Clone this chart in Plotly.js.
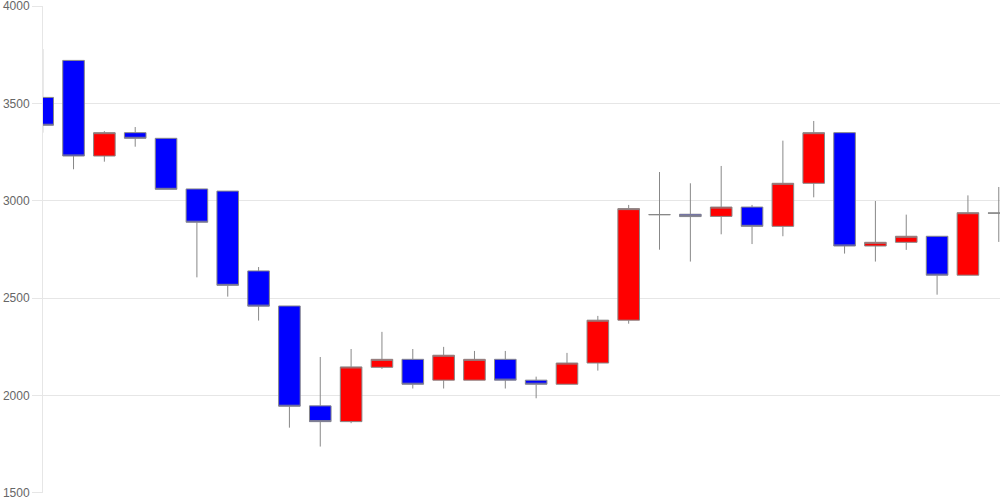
<!DOCTYPE html>
<html>
<head>
<meta charset="utf-8">
<script src="https://cdn.plot.ly/plotly-3.0.1.min.js"></script>
<style>html,body{margin:0;padding:0;background:#fff}#chart{width:1000px;height:500px}</style>
</head>
<body>
<div id="chart"></div>
<script>
var days = [0,1,2,3,4,5,6,7,8,9,10,11,12,13,14,15,16,17,18,19,20,21,22,23,24,25,26,27,28,29,30,31];
var openP  = [3531,3721,3230,3350,3321,3061,3050,2640,2460,1947,1866,2145,2186,2079,2079,2186,2079,2058,2167,2387,2929,2931,2920,2968,2869,3090,3350,2768,2787,2818,2618,2937];
var highP  = [3779,3721,3358,3379,3321,3061,3050,2660,2460,2198,2239,2327,2239,2250,2229,2229,2097,2219,2409,2979,3148,3090,3179,2979,3309,3410,3350,2999,2929,2818,3028,3071];
var lowP   = [3350,3162,3201,3278,3059,2607,2508,2385,1835,1738,1858,2137,2036,2036,2079,2036,1986,2058,2128,2369,2749,2688,2828,2778,2818,3018,2729,2688,2748,2518,2618,2789];
var closeP = [3388,3230,3350,3321,3059,2890,2566,2459,1945,1866,2147,2186,2058,2207,2186,2079,2058,2167,2387,2960,2929,2919,2968,2869,3090,3350,2768,2787,2818,2618,2939,2937];
var yTicks = [1500,2000,2500,3000,3500,4000];

var trace = {
  type: 'candlestick',
  x: days, open: openP, high: highP, low: lowP, close: closeP,
  increasing: {fillcolor: '#ff0000', line: {color: '#888888', width: 1}},
  decreasing: {fillcolor: '#0000ff', line: {color: '#888888', width: 1}},
  whiskerwidth: 0,
  hoverinfo: 'none'
};
var layout = {
  width: 1000, height: 500,
  margin: {l: 43, r: 0, t: 6, b: 7},
  paper_bgcolor: '#fff', plot_bgcolor: '#fff',
  showlegend: false,
  boxgap: 0.3, boxgroupgap: 0,
  xaxis: {range: [0.01, 31.04], showgrid: false, zeroline: false, showticklabels: false, ticks: '', showline: false, rangeslider: {visible: false}, fixedrange: true},
  yaxis: {range: [1499.5, 4000.5], tickvals: yTicks, ticktext: yTicks.map(String), gridcolor: '#e6e6e6', gridwidth: 1,
          showline: true, linecolor: '#e6e6e6', linewidth: 1, ticks: 'outside', ticklen: 10, tickcolor: '#e6e6e6',
          ticklabeloverflow: 'allow',
          tickfont: {family: 'Liberation Sans, Arial, sans-serif', size: 12, color: '#666'}, zeroline: false}
};
Plotly.newPlot('chart', [trace], layout, {staticPlot: true, displayModeBar: false});
</script>
</body>
</html>
